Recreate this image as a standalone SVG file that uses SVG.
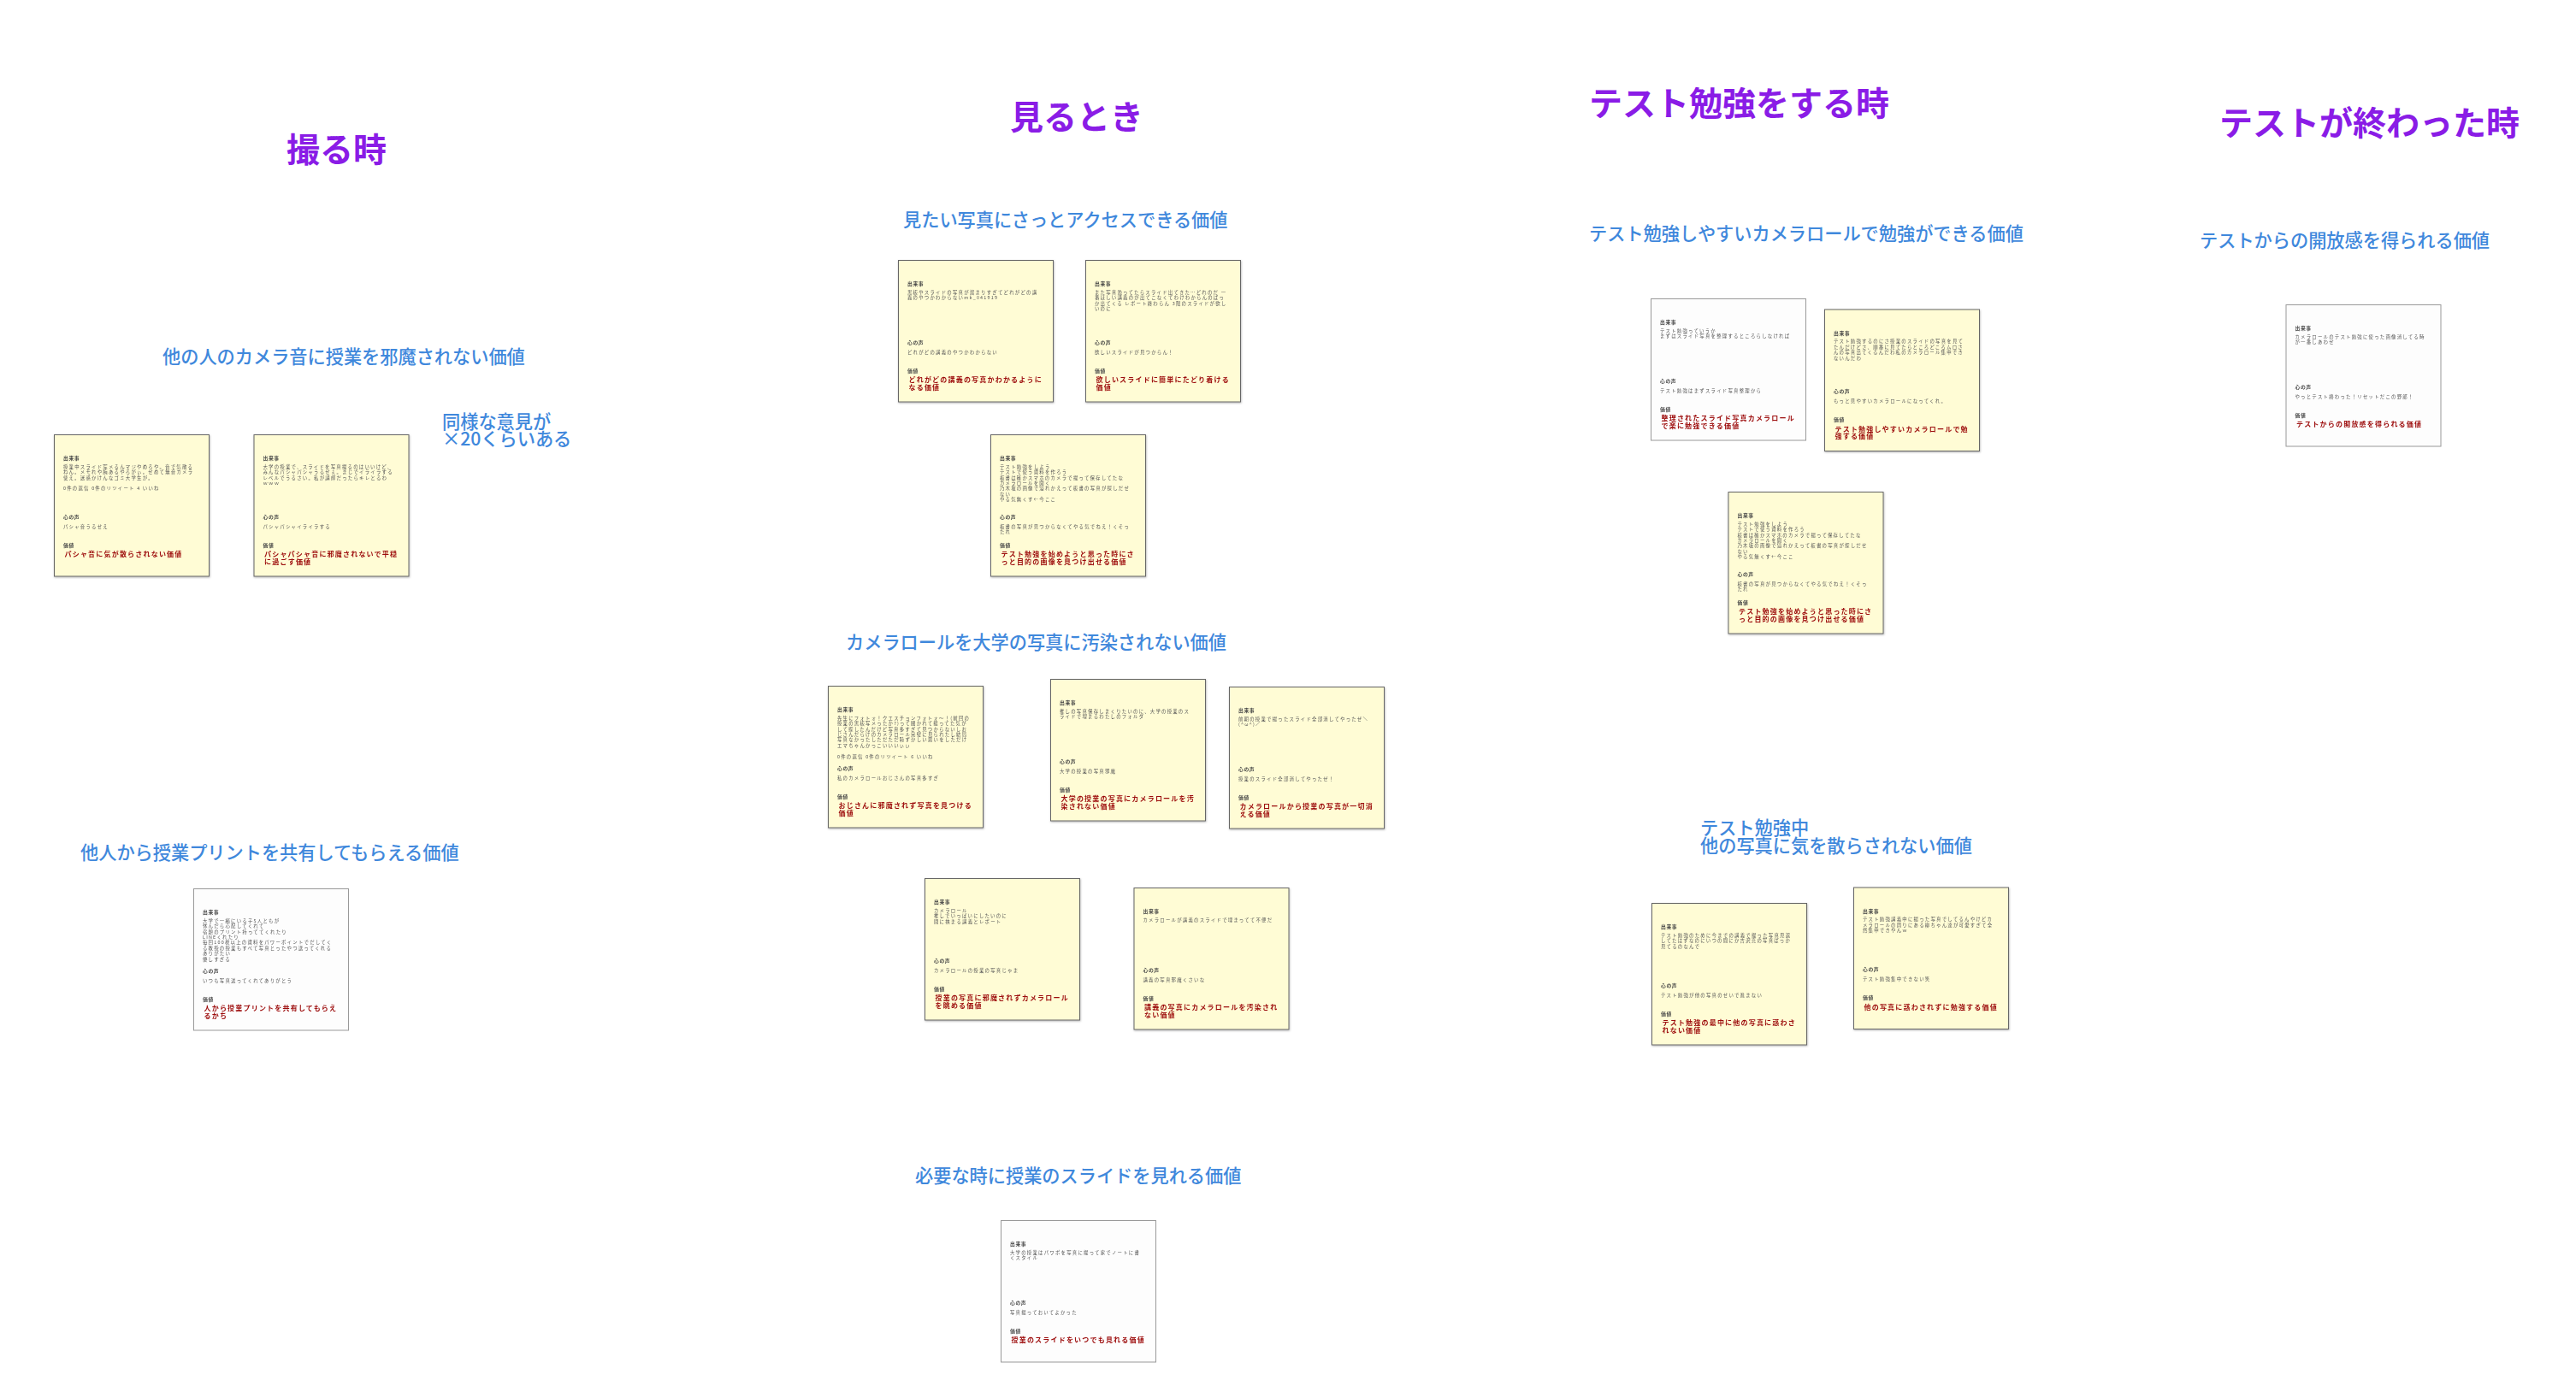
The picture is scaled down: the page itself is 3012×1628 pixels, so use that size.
<svg xmlns="http://www.w3.org/2000/svg" width="3012" height="1628" viewBox="0 0 3012 1628">
<defs>
<filter id="soft" x="-5%" y="-5%" width="110%" height="110%"><feGaussianBlur stdDeviation="0.35"/></filter>
<filter id="shadow" x="-5%" y="-5%" width="110%" height="110%"><feDropShadow dx="0.5" dy="1" stdDeviation="1" flood-color="#000" flood-opacity="0.3"/></filter>
</defs>
<style>
text{font-family:"Noto Sans CJK JP","Noto Sans",sans-serif}
.title{font-size:39px;font-weight:700;fill:#8a1ce6}
.sub{font-size:21.2px;font-weight:500;fill:#3f88dc}
.n{filter:url(#soft)}
.y{fill:#fffcd5;stroke:#666;stroke-width:1;filter:url(#shadow)}
.w{fill:#fdfdfd;stroke:#999;stroke-width:1}
.h{font-size:5.8px;font-weight:700;fill:#444;letter-spacing:.6px}
.b{font-size:5.4px;fill:#555;letter-spacing:1.23px}
.v{font-size:8px;font-weight:700;fill:#9c0a0a;letter-spacing:1.2px}
</style>
<rect width="3012" height="1628" fill="#fff"/>
<g id="titles">
<text class="title" x="335" y="189">撮る時</text>
<text class="title" x="1181" y="151">見るとき</text>
<text class="title" x="1858" y="135">テスト勉強をする時</text>
<text class="title" x="2595" y="158">テストが終わった時</text>
</g>
<g id="labels">
<text class="sub" x="190" y="425">他の人のカメラ音に授業を邪魔されない価値</text>
<text class="sub"><tspan x="517" y="501">同様な意見が</tspan><tspan x="517" y="521">×20くらいある</tspan></text>
<text class="sub" x="1056" y="265">見たい写真にさっとアクセスできる価値</text>
<text class="sub" x="989" y="759">カメラロールを大学の写真に汚染されない価値</text>
<text class="sub" x="94" y="1005">他人から授業プリントを共有してもらえる価値</text>
<text class="sub" x="1070" y="1383">必要な時に授業のスライドを見れる価値</text>
<text class="sub" x="1858" y="281">テスト勉強しやすいカメラロールで勉強ができる価値</text>
<text class="sub"><tspan x="1988" y="976">テスト勉強中</tspan><tspan x="1988" y="997">他の写真に気を散らされない価値</tspan></text>
<text class="sub" x="2572" y="289">テストからの開放感を得られる価値</text>
</g>
<g id="a1" class="n" transform="translate(63.5 508.5)"><rect class="y" width="181" height="165.5"/>
<text class="h" x="10.5" y="29.5">出来事</text>
<text class="b" x="10.5" y="39.3">授業中スライド写メるんマジやめろや。音で気散る</text><text class="b" x="10.5" y="45.7">ねん。メモれや腕あるやろがぃ。せめて無音カメラ</text><text class="b" x="10.5" y="52.1">使え。迷惑かけんなゴミ大学生が。</text><text class="b" x="10.5" y="64.9">0件の返信 0件のリツイート 4 いいね</text>
<text class="h" x="10.5" y="98.4">心の声</text><text class="b" x="10.5" y="109.3">パシャ音うるせえ</text>
<text class="h" x="10.5" y="131.4">価値</text><text class="v" x="12" y="142.7">パシャ音に気が散らされない価値</text></g>
<g id="a2" class="n" transform="translate(297 508.5)"><rect class="y" width="181" height="165.5"/>
<text class="h" x="10.5" y="29.5">出来事</text>
<text class="b" x="10.5" y="39.3">大学の授業で、スライドを写真撮るのはいいけど、</text><text class="b" x="10.5" y="45.7">みんなパシャパシャうるせぇ。まじでイライラする</text><text class="b" x="10.5" y="52.1">レベルでうるさい。私が講師だったらキレとるわ</text><text class="b" x="10.5" y="58.5">ｗｗｗ</text>
<text class="h" x="10.5" y="98.4">心の声</text><text class="b" x="10.5" y="109.3">パシャパシャイライラする</text>
<text class="h" x="10.5" y="131.4">価値</text><text class="v" x="12" y="142.7">パシャパシャ音に邪魔されないで平穏</text><text class="v" x="12" y="151">に過ごす価値</text></g>
<g id="m1" class="n" transform="translate(1050.5 304.5)"><rect class="y" width="181" height="165.5"/>
<text class="h" x="10.5" y="29.5">出来事</text>
<text class="b" x="10.5" y="39.3">黒板やスライドの写真が溜まりすぎてどれがどの講</text><text class="b" x="10.5" y="45.7">義のやつかわからないmk_041919</text>
<text class="h" x="10.5" y="98.4">心の声</text><text class="b" x="10.5" y="109.3">どれがどの講義のやつかわからない</text>
<text class="h" x="10.5" y="131.4">価値</text><text class="v" x="12" y="142.7">どれがどの講義の写真かわかるように</text><text class="v" x="12" y="151">なる価値</text></g>
<g id="m2" class="n" transform="translate(1269.5 304.5)"><rect class="y" width="181" height="165.5"/>
<text class="h" x="10.5" y="29.5">出来事</text>
<text class="b" x="10.5" y="39.3">また写真漁ってたらスライド出てきた…どれのだ 一</text><text class="b" x="10.5" y="45.7">番ほしい講義のが出てこなくてわけわからんのばっ</text><text class="b" x="10.5" y="52.1">か出てくる レポート終わらん 3限のスライドが欲し</text><text class="b" x="10.5" y="58.5">いのに</text>
<text class="h" x="10.5" y="98.4">心の声</text><text class="b" x="10.5" y="109.3">欲しいスライドが見つからん！</text>
<text class="h" x="10.5" y="131.4">価値</text><text class="v" x="12" y="142.7">欲しいスライドに簡単にたどり着ける</text><text class="v" x="12" y="151">価値</text></g>
<g id="m3" class="n" transform="translate(1158.5 508.5)"><rect class="y" width="181" height="165.5"/>
<text class="h" x="10.5" y="29.5">出来事</text>
<text class="b" x="10.5" y="39.3">テスト勉強をしよう</text><text class="b" x="10.5" y="45.7">テストで使う資料を作ろう</text><text class="b" x="10.5" y="52.1">板書は確かスマホのカメラで撮って保存してたな</text><text class="b" x="10.5" y="58.5">カメラロールを開く</text><text class="b" x="10.5" y="64.9">乃木坂の画像で溢れかえって板書の写真が探しだせ</text><text class="b" x="10.5" y="71.3">ない</text><text class="b" x="10.5" y="77.7">やる気無くす←今ここ</text>
<text class="h" x="10.5" y="98.4">心の声</text><text class="b" x="10.5" y="109.3">板書の写真が見つからなくてやる気でねえ！くそっ</text><text class="b" x="10.5" y="115.7">たれ</text>
<text class="h" x="10.5" y="131.4">価値</text><text class="v" x="12" y="142.7">テスト勉強を始めようと思った時にさ</text><text class="v" x="12" y="151">っと目的の画像を見つけ出せる価値</text></g>
<g id="r1" class="n" transform="translate(968.5 802.5)"><rect class="y" width="181" height="165.5"/>
<text class="h" x="10.5" y="29.5">出来事</text>
<text class="b" x="10.5" y="39.3">先生にフォトォ！クエスチョンフォトォ〜！(前回の</text><text class="b" x="10.5" y="45.7">授業の黒板写メったか?)って聞かれて撮ってた気が</text><text class="b" x="10.5" y="52.1">して探したんだけど写真多すぎて見つからないしお</text><text class="b" x="10.5" y="58.5">じさんだらけのカメラロール完璧に見られたし結局</text><text class="b" x="10.5" y="64.9">写真なかったしただただ恥ずかしい思いをしただけ</text><text class="b" x="10.5" y="71.3">エマちゃんかっこいいいぃぃ</text><text class="b" x="10.5" y="84.1">0件の返信 0件のリツイート 6 いいね</text>
<text class="h" x="10.5" y="98.4">心の声</text><text class="b" x="10.5" y="109.3">私のカメラロールおじさんの写真多すぎ</text>
<text class="h" x="10.5" y="131.4">価値</text><text class="v" x="12" y="142.7">おじさんに邪魔されず写真を見つける</text><text class="v" x="12" y="151">価値</text></g>
<g id="r2" class="n" transform="translate(1228.5 794.5)"><rect class="y" width="181" height="165.5"/>
<text class="h" x="10.5" y="29.5">出来事</text>
<text class="b" x="10.5" y="39.3">推しの写真保存しまくりたいのに、大学の授業のス</text><text class="b" x="10.5" y="45.7">ライドで埋まるわたしのフォルダ</text>
<text class="h" x="10.5" y="98.4">心の声</text><text class="b" x="10.5" y="109.3">大学の授業の写真邪魔</text>
<text class="h" x="10.5" y="131.4">価値</text><text class="v" x="12" y="142.7">大学の授業の写真にカメラロールを汚</text><text class="v" x="12" y="151">染されない価値</text></g>
<g id="r3" class="n" transform="translate(1437.5 803.5)"><rect class="y" width="181" height="165.5"/>
<text class="h" x="10.5" y="29.5">出来事</text>
<text class="b" x="10.5" y="39.3">前期の授業で撮ったスライド全部消してやったぜ＼</text><text class="b" x="10.5" y="45.7">(^ω^)／</text>
<text class="h" x="10.5" y="98.4">心の声</text><text class="b" x="10.5" y="109.3">授業のスライド全部消してやったぜ！</text>
<text class="h" x="10.5" y="131.4">価値</text><text class="v" x="12" y="142.7">カメラロールから授業の写真が一切消</text><text class="v" x="12" y="151">える価値</text></g>
<g id="r4" class="n" transform="translate(1081.5 1027.5)"><rect class="y" width="181" height="165.5"/>
<text class="h" x="10.5" y="29.5">出来事</text>
<text class="b" x="10.5" y="39.3">カメラロール</text><text class="b" x="10.5" y="45.7">推しでいっぱいにしたいのに</text><text class="b" x="10.5" y="52.1">間に挟まる講義とレポート</text>
<text class="h" x="10.5" y="98.4">心の声</text><text class="b" x="10.5" y="109.3">カメラロールの授業の写真じゃま</text>
<text class="h" x="10.5" y="131.4">価値</text><text class="v" x="12" y="142.7">授業の写真に邪魔されずカメラロール</text><text class="v" x="12" y="151">を眺める価値</text></g>
<g id="r5" class="n" transform="translate(1326 1038.5)"><rect class="y" width="181" height="165.5"/>
<text class="h" x="10.5" y="29.5">出来事</text>
<text class="b" x="10.5" y="39.3">カメラロールが講義のスライドで埋まってて不便だ</text>
<text class="h" x="10.5" y="98.4">心の声</text><text class="b" x="10.5" y="109.3">講義の写真邪魔くさいな</text>
<text class="h" x="10.5" y="131.4">価値</text><text class="v" x="12" y="142.7">講義の写真にカメラロールを汚染され</text><text class="v" x="12" y="151">ない価値</text></g>
<g id="w1" class="n" transform="translate(226.5 1039.5)"><rect class="w" width="181" height="165.5"/>
<text class="h" x="10.5" y="29.5">出来事</text>
<text class="b" x="10.5" y="39.3">大学で一緒にいる子5人ともが</text><text class="b" x="10.5" y="45.7">休んだら心配してくれて</text><text class="b" x="10.5" y="52.1">宿題のプリント持っててくれたり</text><text class="b" x="10.5" y="58.5">LINEくれたり</text><text class="b" x="10.5" y="64.9">毎回100枚以上の資料をパワーポイントでだしてく</text><text class="b" x="10.5" y="71.3">る教授の授業もすべて写真とったやつ送ってくれる</text><text class="b" x="10.5" y="77.7">ありがたい</text><text class="b" x="10.5" y="84.1">優しすぎる</text>
<text class="h" x="10.5" y="98.4">心の声</text><text class="b" x="10.5" y="109.3">いつも写真送ってくれてありがとう</text>
<text class="h" x="10.5" y="131.4">価値</text><text class="v" x="12" y="142.7">人から授業プリントを共有してもらえ</text><text class="v" x="12" y="151">るかち</text></g>
<g id="w2" class="n" transform="translate(1170.5 1427.5)"><rect class="w" width="181" height="165.5"/>
<text class="h" x="10.5" y="29.5">出来事</text>
<text class="b" x="10.5" y="39.3">大学の授業はパワポを写真に撮って家でノートに書</text><text class="b" x="10.5" y="45.7">くスタイル</text>
<text class="h" x="10.5" y="98.4">心の声</text><text class="b" x="10.5" y="109.3">写真撮っておいてよかった</text>
<text class="h" x="10.5" y="131.4">価値</text><text class="v" x="12" y="142.7">授業のスライドをいつでも見れる価値</text></g>
<g id="t1" class="n" transform="translate(1930.5 349.5)"><rect class="w" width="181" height="165.5"/>
<text class="h" x="10.5" y="29.5">出来事</text>
<text class="b" x="10.5" y="39.3">テスト勉強っていうか</text><text class="b" x="10.5" y="45.7">まずはスライド写真を整理するところらしなければ</text>
<text class="h" x="10.5" y="98.4">心の声</text><text class="b" x="10.5" y="109.3">テスト勉強はまずスライド写真整理から</text>
<text class="h" x="10.5" y="131.4">価値</text><text class="v" x="12" y="142.7">整理されたスライド写真カメラロール</text><text class="v" x="12" y="151">で楽に勉強できる価値</text></g>
<g id="t2" class="n" transform="translate(2133.5 362)"><rect class="y" width="181" height="165.5"/>
<text class="h" x="10.5" y="29.5">出来事</text>
<text class="b" x="10.5" y="39.3">テスト勉強するのにさ授業のスライドの写真を見て</text><text class="b" x="10.5" y="45.7">たんだけどさ、順番に見てたらところどころムロさ</text><text class="b" x="10.5" y="52.1">んの写真出てくるんだわ私のカメラロール集中でき</text><text class="b" x="10.5" y="58.5">ないんだわ</text>
<text class="h" x="10.5" y="98.4">心の声</text><text class="b" x="10.5" y="109.3">もっと見やすいカメラロールになってくれ。</text>
<text class="h" x="10.5" y="131.4">価値</text><text class="v" x="12" y="142.7">テスト勉強しやすいカメラロールで勉</text><text class="v" x="12" y="151">強する価値</text></g>
<g id="t3" class="n" transform="translate(2021 575.5)"><rect class="y" width="181" height="165.5"/>
<text class="h" x="10.5" y="29.5">出来事</text>
<text class="b" x="10.5" y="39.3">テスト勉強をしよう</text><text class="b" x="10.5" y="45.7">テストで使う資料を作ろう</text><text class="b" x="10.5" y="52.1">板書は確かスマホのカメラで撮って保存してたな</text><text class="b" x="10.5" y="58.5">カメラロールを開く</text><text class="b" x="10.5" y="64.9">乃木坂の画像で溢れかえって板書の写真が探しだせ</text><text class="b" x="10.5" y="71.3">ない</text><text class="b" x="10.5" y="77.7">やる気無くす←今ここ</text>
<text class="h" x="10.5" y="98.4">心の声</text><text class="b" x="10.5" y="109.3">板書の写真が見つからなくてやる気でねえ！くそっ</text><text class="b" x="10.5" y="115.7">たれ</text>
<text class="h" x="10.5" y="131.4">価値</text><text class="v" x="12" y="142.7">テスト勉強を始めようと思った時にさ</text><text class="v" x="12" y="151">っと目的の画像を見つけ出せる価値</text></g>
<g id="t4" class="n" transform="translate(1931.5 1056.5)"><rect class="y" width="181" height="165.5"/>
<text class="h" x="10.5" y="29.5">出来事</text>
<text class="b" x="10.5" y="39.3">テスト勉強のために今までの講義で撮った写真見返</text><text class="b" x="10.5" y="45.7">してたはずなのにいつの間にか吉沢亮の写真ばっか</text><text class="b" x="10.5" y="52.1">見てるのなんで</text>
<text class="h" x="10.5" y="98.4">心の声</text><text class="b" x="10.5" y="109.3">テスト勉強が他の写真のせいで進まない</text>
<text class="h" x="10.5" y="131.4">価値</text><text class="v" x="12" y="142.7">テスト勉強の最中に他の写真に惑わさ</text><text class="v" x="12" y="151">れない価値</text></g>
<g id="t5" class="n" transform="translate(2167.5 1038)"><rect class="y" width="181" height="165.5"/>
<text class="h" x="10.5" y="29.5">出来事</text>
<text class="b" x="10.5" y="39.3">テスト勉強講義中に撮った写真でしてるんやけどカ</text><text class="b" x="10.5" y="45.7">メラロールの周りにある柳ちゃん達が可愛すぎて全</text><text class="b" x="10.5" y="52.1">然集中できやんｗ</text>
<text class="h" x="10.5" y="98.4">心の声</text><text class="b" x="10.5" y="109.3">テスト勉強集中できない笑</text>
<text class="h" x="10.5" y="131.4">価値</text><text class="v" x="12" y="142.7">他の写真に惑わされずに勉強する価値</text></g>
<g id="e1" class="n" transform="translate(2673 356.5)"><rect class="w" width="181" height="165.5"/>
<text class="h" x="10.5" y="29.5">出来事</text>
<text class="b" x="10.5" y="39.3">カメラロールのテスト勉強に使った画像消してる時</text><text class="b" x="10.5" y="45.7">が一番しあわせ</text>
<text class="h" x="10.5" y="98.4">心の声</text><text class="b" x="10.5" y="109.3">やっとテスト終わった！リセットだこの野郎！</text>
<text class="h" x="10.5" y="131.4">価値</text><text class="v" x="12" y="142.7">テストからの開放感を得られる価値</text></g>
</svg>
